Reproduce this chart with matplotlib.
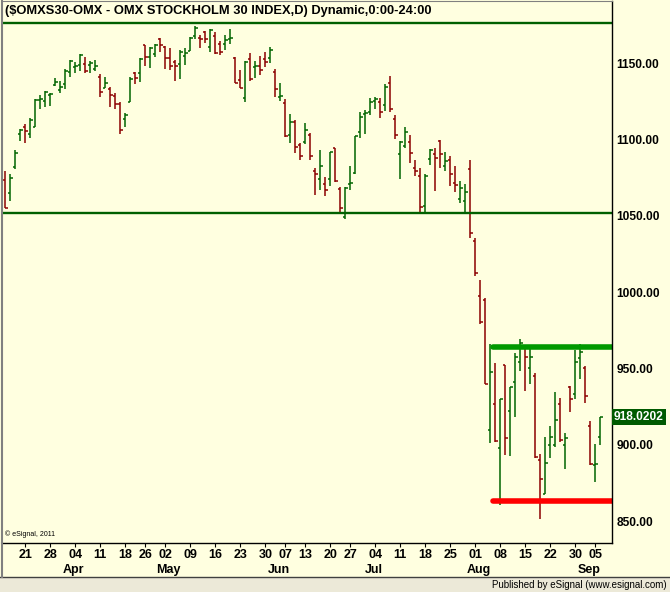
import matplotlib.pyplot as plt
from matplotlib.patches import Rectangle
from matplotlib.lines import Line2D
from matplotlib.ticker import FormatStrFormatter

plt.rcParams["font.family"] = ["Liberation Sans", "DejaVu Sans"]

# daily OHLC, $OMXS30, 15 Mar 2011 .. 06 Sep 2011
opens = [1073.3, 1064.8, 1082.0, 1103.5, 1108.4, 1103.5, 1108.4, 1125.8, 1125.3, 1129.5,
         1135.8, 1132.5, 1136.4, 1144.5, 1147.5, 1148.7, 1149.7, 1148.9, 1146.1, 1140.8,
         1134.0, 1133.0, 1128.8, 1123.1, 1113.3, 1124.4, 1143.4, 1143.4, 1161.8, 1153.9,
         1156.1, 1166.1, 1160.7, 1153.3, 1151.0, 1149.3, 1154.8, 1157.9, 1167.9, 1166.6,
         1170.7, 1160.5, 1167.9, 1162.5, 1162.5, 1165.7, 1153.5, 1138.9, 1127.1, 1152.6,
         1147.6, 1148.0, 1152.6, 1153.3, 1144.1, 1128.1, 1123.8, 1102.8, 1111.5, 1096.5,
         1098.4, 1102.8, 1079.2, 1074.2, 1070.7, 1074.2, 1094.3, 1067.6, 1049.1, 1071.1,
         1078.3, 1105.0, 1116.6, 1118.3, 1125.5, 1124.6, 1122.5, 1136.9, 1113.7, 1090.4,
         1095.8, 1098.2, 1081.2, 1075.9, 1056.3, 1087.1, 1090.4, 1099.1, 1082.5, 1086.4,
         1071.4, 1060.9, 1059.6, 1080.5, 1033.3, 997.5, 994.9, 909.7, 927.0, 897.7,
         952.2, 922.1, 940.9, 954.4, 963.9, 950.1, 945.1, 889.8, 867.7, 899.6,
         899.6, 926.7, 899.6, 937.6, 933.1, 956.7, 950.1, 912.3, 886.7, 905.3]
highs = [1079.4, 1077.4, 1093.2, 1106.9, 1110.0, 1114.0, 1126.4, 1129.0, 1131.8, 1130.3,
         1140.6, 1138.4, 1146.1, 1152.0, 1150.7, 1156.3, 1154.1, 1151.7, 1152.0, 1143.0,
         1140.8, 1134.5, 1130.5, 1124.6, 1117.6, 1140.8, 1144.1, 1153.3, 1162.0, 1160.7,
         1162.6, 1166.6, 1161.1, 1160.0, 1152.2, 1158.7, 1160.0, 1167.4, 1174.4, 1168.5,
         1171.2, 1172.5, 1170.3, 1164.6, 1168.5, 1172.5, 1154.1, 1145.6, 1151.5, 1156.8,
         1151.5, 1154.8, 1157.2, 1160.7, 1146.1, 1137.1, 1126.6, 1116.8, 1112.8, 1097.6,
         1111.1, 1104.3, 1081.6, 1093.2, 1075.5, 1092.1, 1094.5, 1069.2, 1068.7, 1082.7,
         1102.5, 1118.1, 1119.4, 1127.3, 1128.1, 1127.1, 1136.4, 1141.7, 1115.9, 1099.1,
         1108.4, 1103.0, 1086.6, 1081.4, 1077.3, 1093.8, 1094.5, 1099.7, 1091.9, 1089.2,
         1082.9, 1072.9, 1070.9, 1086.6, 1035.3, 1007.8, 996.0, 965.8, 953.6, 929.8,
         952.2, 937.6, 960.0, 969.3, 965.4, 965.4, 946.8, 893.9, 904.9, 912.3,
         934.6, 930.6, 907.5, 938.6, 962.1, 966.0, 951.6, 915.8, 900.2, 918.4]
lows = [1055.0, 1059.8, 1080.5, 1099.3, 1097.6, 1100.8, 1108.1, 1119.9, 1121.6, 1122.2,
        1135.3, 1130.7, 1133.0, 1140.8, 1143.4, 1144.8, 1143.4, 1143.8, 1145.2, 1128.1,
        1133.6, 1121.6, 1120.2, 1103.9, 1108.4, 1124.4, 1136.6, 1137.9, 1148.4, 1147.1,
        1153.9, 1157.6, 1146.1, 1145.4, 1138.6, 1139.5, 1148.9, 1157.9, 1166.1, 1160.2,
        1163.5, 1157.6, 1156.3, 1155.6, 1158.9, 1162.8, 1136.9, 1134.0, 1124.8, 1138.6,
        1140.6, 1142.5, 1147.8, 1150.4, 1128.1, 1125.5, 1101.9, 1097.6, 1091.0, 1086.6,
        1096.9, 1086.6, 1063.9, 1067.2, 1063.2, 1069.8, 1072.0, 1051.7, 1047.8, 1067.2,
        1077.4, 1101.2, 1103.5, 1116.3, 1119.9, 1114.3, 1118.7, 1118.3, 1100.6, 1074.4,
        1094.3, 1084.9, 1076.3, 1052.1, 1052.7, 1083.5, 1066.5, 1081.6, 1079.6, 1069.8,
        1065.8, 1058.6, 1052.1, 1035.3, 1010.8, 978.9, 939.6, 900.9, 901.6, 860.5,
        893.1, 892.8, 918.4, 948.5, 935.4, 939.6, 891.1, 851.1, 867.7, 891.5,
        898.7, 902.0, 883.9, 921.3, 930.2, 942.9, 927.2, 886.7, 875.4, 899.6]
closes = [1055.2, 1074.6, 1091.0, 1106.3, 1105.4, 1112.8, 1126.0, 1126.6, 1131.4, 1130.0,
          1137.9, 1134.5, 1145.2, 1151.3, 1148.0, 1155.6, 1145.2, 1150.4, 1148.2, 1131.2,
          1137.3, 1129.0, 1123.1, 1106.3, 1115.9, 1139.5, 1140.2, 1152.6, 1153.9, 1160.2,
          1162.0, 1162.2, 1153.3, 1148.0, 1148.0, 1157.2, 1156.9, 1166.6, 1173.1, 1165.7,
          1165.7, 1172.0, 1156.6, 1157.2, 1165.3, 1166.4, 1136.9, 1134.0, 1151.0, 1139.5,
          1148.0, 1145.6, 1151.0, 1158.5, 1133.0, 1128.3, 1102.2, 1111.3, 1095.1, 1089.2,
          1106.1, 1089.2, 1077.6, 1082.5, 1067.0, 1091.7, 1072.9, 1055.0, 1068.3, 1071.7,
          1102.2, 1114.6, 1117.6, 1124.4, 1126.6, 1117.9, 1134.3, 1119.9, 1102.8, 1098.4,
          1105.2, 1091.0, 1079.2, 1055.6, 1075.9, 1093.2, 1087.7, 1090.4, 1085.8, 1077.3,
          1070.0, 1068.1, 1065.5, 1038.6, 1012.4, 980.6, 939.8, 947.5, 902.4, 929.8,
          904.2, 937.6, 957.3, 966.9, 957.3, 957.3, 892.2, 877.4, 887.8, 905.3,
          916.2, 903.1, 904.2, 929.8, 954.4, 961.0, 932.0, 887.2, 887.4, 918.02]

# first bar of each week and the day shown under it
week_pos = [4, 9, 14, 19, 24, 28, 32, 37, 42, 47, 52, 56, 60,
            65, 69, 74, 79, 84, 89, 94, 99, 104, 109, 114, 118]
week_labels = ["21", "28", "04", "11", "18", "26", "02", "09", "16", "23", "30", "07", "13",
               "20", "27", "04", "11", "18", "25", "01", "08", "15", "22", "30", "05"]
month_pos = [13, 32, 54, 73, 94, 116]
month_labels = ["Apr", "May", "Jun", "Jul", "Aug", "Sep"]

resistance = 1176.1
support = 1052.0
range_top = 963.8
range_bottom = 862.8
range_start = 97.6
last_price = 918.0202
price_ticks = [850, 900, 950, 1000, 1050, 1100, 1150]

BG = "#FFFFE0"
UP = "#006400"
DOWN = "#8B0000"

fig = plt.figure(figsize=(6.7, 5.92), dpi=100, facecolor=BG)
ax = fig.add_axes([2 / 670, 49 / 592, 610 / 670, 542 / 592], facecolor=BG)

x = list(range(len(opens)))
colors = [UP if c >= o else DOWN for o, c in zip(opens, closes)]
ax.vlines(x, lows, highs, colors=colors, lw=1.1)
ax.hlines(opens, [i - 0.45 for i in x], x, colors=colors, lw=1.1)
ax.hlines(closes, x, [i + 0.45 for i in x], colors=colors, lw=1.1)

ax.axhline(resistance, color="#006000", lw=1.7)
ax.axhline(support, color="#006000", lw=1.7)
ax.plot([range_start, 130], [range_top, range_top], color="#009900", lw=4,
        solid_capstyle="round")
ax.plot([range_start, 130], [range_bottom, range_bottom], color="#FF0000", lw=4,
        solid_capstyle="round")

ax.set_xlim(-0.66, 121.34)
ax.set_ylim(835.6, 1190.8)

# price scale on the right
ax.yaxis.tick_right()
ax.set_yticks(price_ticks)
ax.yaxis.set_major_formatter(FormatStrFormatter("%.2f"))
ax.tick_params(axis="y", length=0, pad=3, labelsize=8.6)
for lab in ax.get_yticklabels():
    lab.set_fontweight("bold")

ax.annotate(f"{last_price:.4f}", xy=(1, last_price), xycoords=("axes fraction", "data"),
            xytext=(1.5, 0), textcoords="offset points", ha="left", va="center",
            color="white", fontsize=8.6, fontweight="bold",
            bbox=dict(boxstyle="square,pad=0.15", fc="#005A00", ec="none"))

# date scale
ax.set_xticks(week_pos, week_labels)
ax.tick_params(axis="x", length=3, pad=1.5, labelsize=9)
for lab in ax.get_xticklabels():
    lab.set_fontweight("bold")
for p, m in zip(month_pos, month_labels):
    ax.text(p + 0.7, -0.05, m, transform=ax.get_xaxis_transform(), ha="center",
            va="center", fontsize=9, fontweight="bold")

for side in ["left", "top"]:
    ax.spines[side].set_color("#808080")
ax.spines["left"].set_linewidth(1.5)
for side in ["right", "bottom"]:
    ax.spines[side].set_color("black")
    ax.spines[side].set_linewidth(1)

fig.text(5 / 670, 1 - 11 / 592, "($OMXS30-OMX - OMX STOCKHOLM 30 INDEX,D) Dynamic,0:00-24:00",
         ha="left", va="center", fontsize=9.3, fontweight="bold")
fig.text(5 / 670, 1 - 534 / 592, "\u00a9 eSignal, 2011", ha="left", va="center", fontsize=5)

# footer strip
fig.patches.append(Rectangle((0, 0), 1, 15 / 592, transform=fig.transFigure,
                             fc="#ECE9D8", ec="none"))
fig.lines.append(Line2D([0, 1], [15 / 592, 15 / 592], transform=fig.transFigure,
                        color="#404040", lw=1))
fig.lines.append(Line2D([1.5 / 670, 1.5 / 670], [15 / 592, 49 / 592], transform=fig.transFigure,
                        color="#808080", lw=1.5))
fig.text(667 / 670, 7 / 592, "Published by eSignal (www.esignal.com)", ha="right",
         va="center", fontsize=7)

fig.savefig("out.png", dpi=100, facecolor=BG)
